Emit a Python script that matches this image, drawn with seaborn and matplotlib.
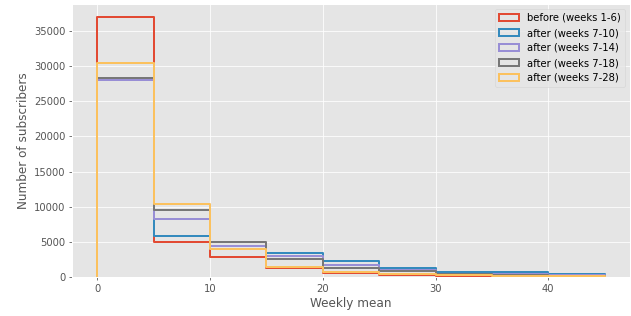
import numpy as np
import seaborn as sns
from matplotlib import pyplot as plt
from matplotlib.patches import Patch

# bin edges of weekly mean (width 5) and subscriber counts per bin
bin_edges = [0, 5, 10, 15, 20, 25, 30, 35, 40, 45]
before_1_6 = [37000, 5050, 2900, 1250, 550, 250, 120, 60, 30]
after_7_10 = [28000, 5850, 4400, 3450, 2300, 1350, 750, 650, 380]
after_7_14 = [28100, 8300, 4350, 2950, 1700, 1040, 480, 400, 250]
after_7_18 = [28250, 9600, 5000, 2600, 1250, 850, 420, 330, 200]
after_7_28 = [30400, 10400, 4000, 1400, 700, 450, 250, 200, 100]

labels = ['before (weeks 1-6)', 'after (weeks 7-10)', 'after (weeks 7-14)',
          'after (weeks 7-18)', 'after (weeks 7-28)']
series = [before_1_6, after_7_10, after_7_14, after_7_18, after_7_28]
colors = ['#E24A33', '#348ABD', '#988ED5', '#777777', '#FBC15E']

plt.style.use('ggplot')
fig, ax = plt.subplots(figsize=(631 / 72, 316 / 72), dpi=72)
fig.subplots_adjust(left=72 / 631, right=630 / 631, top=1 - 4 / 316,
                    bottom=1 - 277 / 316)

centers = (np.array(bin_edges[:-1]) + np.array(bin_edges[1:])) / 2
for values, color in zip(series, colors):
    sns.histplot(x=centers, weights=values, bins=bin_edges, element='step',
                 fill=False, color=color, linewidth=2, ax=ax)
    # close the step outline down to the baseline at both ends, like hist step
    line = ax.lines[-1]
    xs, ys = line.get_xdata(), line.get_ydata()
    line.set_data(np.r_[xs[0], xs, xs[-1]], np.r_[0, ys, 0])

handles = [Patch(facecolor='none', edgecolor=c, linewidth=2) for c in colors]
ax.legend(handles, labels, loc='upper right')
ax.set_xlabel('Weekly mean')
ax.set_ylabel('Number of subscribers')
ax.tick_params(length=3, width=0.8, color='#555555')

plt.savefig('out.png', dpi=72)
